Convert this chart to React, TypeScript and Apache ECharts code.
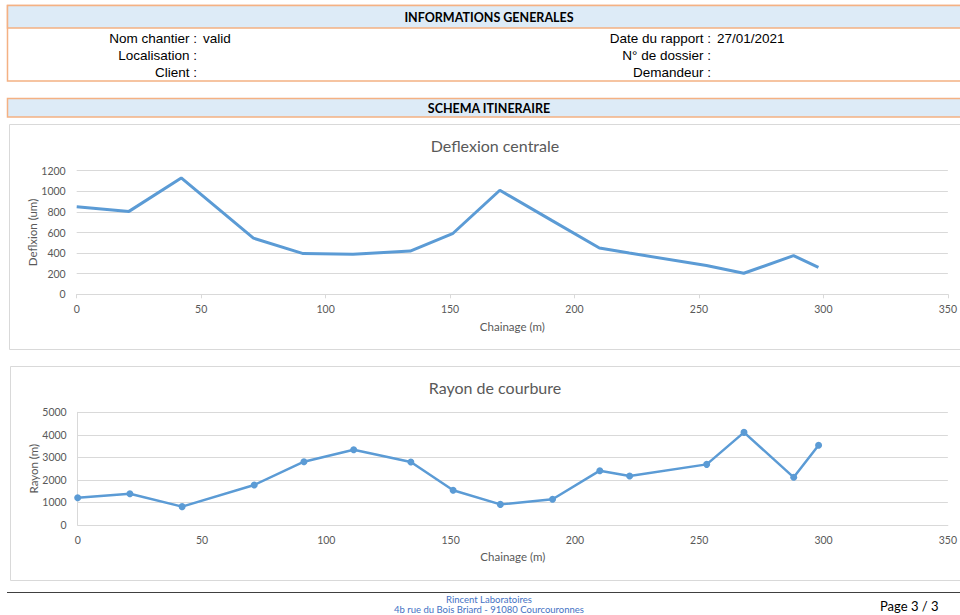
import React, { useEffect, useRef } from "react";
import * as echarts from "echarts";

const chainage = [0, 21, 42, 71, 91, 111, 134, 151, 170, 191, 210, 222, 253, 268, 288, 298];
const deflexion = [850, 805, 1130, 545, 395, 388, 420, 588, 1010, 715, 450, 400, 280, 204, 375, 262];
const rayon = [1210, 1390, 815, 1775, 2810, 3340, 2795, 1540, 915, 1140, 2410, 2175, 2690, 4110, 2115, 3535];

const xTicks = { min: 0, max: 350, interval: 50 };
const y1Ticks = { min: 0, max: 1200, interval: 200 };
const y2Ticks = { min: 0, max: 5000, interval: 1000 };

const infoLeftLabels = ["Nom chantier :", "Localisation :", "Client :"];
const infoLeftValues = ["valid", "", ""];
const infoRightLabels = ["Date du rapport :", "N° de dossier :", "Demandeur :"];
const infoRightValues = ["27/01/2021", "", ""];

const chartFont = "Lato, 'Open Sans', sans-serif";
const gray = "#595959";
const blue = "#5B9BD5";

export default function App() {
  const ref = useRef<HTMLDivElement>(null);
  useEffect(() => {
    if (!ref.current) return;
    const chart = echarts.init(ref.current, null, { renderer: "svg" });
    const rowY = [38, 55.5, 72.5];
    const infoFont = "13.5px 'Liberation Sans', Arial";
    const infoTexts: any[] = [];
    rowY.forEach((y, i) => {
      infoTexts.push({ type: "text", x: 197, y, style: { text: infoLeftLabels[i], font: infoFont, fill: "#000", align: "right", verticalAlign: "middle" } });
      infoTexts.push({ type: "text", x: 203, y, style: { text: infoLeftValues[i], font: infoFont, fill: "#000", align: "left", verticalAlign: "middle" } });
      infoTexts.push({ type: "text", x: 711, y, style: { text: infoRightLabels[i], font: infoFont, fill: "#000", align: "right", verticalAlign: "middle" } });
      infoTexts.push({ type: "text", x: 717, y, style: { text: infoRightValues[i], font: infoFont, fill: "#000", align: "left", verticalAlign: "middle" } });
    });
    const plain = (v: number) => String(v);
    const axisCommon = (name: string, gap: number) => ({
      name,
      nameLocation: "middle",
      nameGap: gap,
      nameMoveOverlap: false,
      nameTextStyle: { color: gray, fontSize: 11.5, fontFamily: chartFont },
    });
    const option: any = {
      animation: false,
      textStyle: { fontFamily: chartFont },
      title: [
        { text: "Deflexion centrale", left: 490, top: 132, textAlign: "center", textStyle: { color: gray, fontSize: 16, fontWeight: "normal", fontFamily: chartFont } },
        { text: "Rayon de courbure", left: 490, top: 374, textAlign: "center", textStyle: { color: gray, fontSize: 16, fontWeight: "normal", fontFamily: chartFont } },
      ],
      graphic: [
        { type: "rect", shape: { x: 7.5, y: 5.5, width: 960, height: 75.5 }, style: { fill: "#fff", stroke: "#F4B183", lineWidth: 1.5 }, z: -10 },
        { type: "rect", shape: { x: 7.5, y: 5.5, width: 960, height: 22.5 }, style: { fill: "#DDEBF7", stroke: "#F4B183", lineWidth: 1.5 }, z: -9 },
        { type: "text", x: 489, y: 17, style: { text: "INFORMATIONS GENERALES", font: "bold 12.5px Lato, 'Open Sans', sans-serif", fill: "#000", align: "center", verticalAlign: "middle" } },
        ...infoTexts,
        { type: "rect", shape: { x: 7.5, y: 98.5, width: 960, height: 18.5 }, style: { fill: "#DDEBF7", stroke: "#F4B183", lineWidth: 1.5 }, z: -9 },
        { type: "text", x: 489, y: 108, style: { text: "SCHEMA ITINERAIRE", font: "bold 12.5px Lato, 'Open Sans', sans-serif", fill: "#000", align: "center", verticalAlign: "middle" } },
        { type: "rect", shape: { x: 9.5, y: 124.5, width: 960, height: 225 }, style: { fill: "none", stroke: "#D9D9D9", lineWidth: 1 }, z: -10 },
        { type: "rect", shape: { x: 10.5, y: 366.5, width: 960, height: 214 }, style: { fill: "none", stroke: "#D9D9D9", lineWidth: 1 }, z: -10 },
        { type: "line", shape: { x1: 7, y1: 592.5, x2: 960, y2: 592.5 }, style: { stroke: "#404040", lineWidth: 1 } },
        { type: "text", x: 489, y: 604.5, style: { text: "Rincent Laboratoires\n4b rue du Bois Briard - 91080 Courcouronnes", font: "9.5px Lato, 'Open Sans', sans-serif", lineHeight: 10, fill: "#4472C4", align: "center", verticalAlign: "middle" } },
        { type: "text", x: 880, y: 606, style: { text: "Page 3 / 3", font: "13px Lato, 'Open Sans', sans-serif", fill: "#000", align: "left", verticalAlign: "middle" } },
      ],
      grid: [
        { left: 76.7, right: 11, top: 170.7, height: 123.6 },
        { left: 77.7, right: 10.7, top: 412.3, height: 112.7 },
      ],
      xAxis: [
        {
          gridIndex: 0, type: "value", ...xTicks, ...axisCommon("Chainage (m)", 26),
          axisLine: { show: true, lineStyle: { color: "#D9D9D9" } },
          axisTick: { show: true, length: 4, lineStyle: { color: "#D9D9D9" } },
          splitLine: { show: false },
          axisLabel: { color: gray, fontSize: 10.5, fontFamily: chartFont, margin: 9, formatter: plain },
        },
        {
          gridIndex: 1, type: "value", ...xTicks, ...axisCommon("Chainage (m)", 25),
          axisLine: { show: true, lineStyle: { color: "#D9D9D9" } },
          axisTick: { show: false },
          splitLine: { show: false },
          axisLabel: { color: gray, fontSize: 10.5, fontFamily: chartFont, margin: 9, formatter: plain },
        },
      ],
      yAxis: [
        {
          gridIndex: 0, type: "value", ...y1Ticks, ...axisCommon("Deflxion (um)", 38),
          axisLine: { show: false }, axisTick: { show: false },
          splitLine: { show: true, lineStyle: { color: "#D9D9D9" } },
          axisLabel: { color: gray, fontSize: 10.5, fontFamily: chartFont, margin: 11, formatter: plain },
        },
        {
          gridIndex: 1, type: "value", ...y2Ticks, ...axisCommon("Rayon (m)", 38),
          axisLine: { show: true, lineStyle: { color: "#D9D9D9" } }, axisTick: { show: false },
          splitLine: { show: true, lineStyle: { color: "#D9D9D9" } },
          axisLabel: { color: gray, fontSize: 10.5, fontFamily: chartFont, margin: 11, formatter: plain },
        },
      ],
      series: [
        {
          type: "line", xAxisIndex: 0, yAxisIndex: 0,
          data: chainage.map((c, i) => [c, deflexion[i]]),
          showSymbol: false, symbol: "none",
          lineStyle: { color: blue, width: 3 },
        },
        {
          type: "line", xAxisIndex: 1, yAxisIndex: 1,
          data: chainage.map((c, i) => [c, rayon[i]]),
          symbol: "circle", symbolSize: 7,
          itemStyle: { color: blue },
          lineStyle: { color: blue, width: 2.5 },
        },
      ],
    };
    chart.setOption(option);
    return () => chart.dispose();
  }, []);
  return <div ref={ref} style={{ position: "fixed", left: 0, top: 0, width: 960, height: 615, background: "#fff" }} />;
}
